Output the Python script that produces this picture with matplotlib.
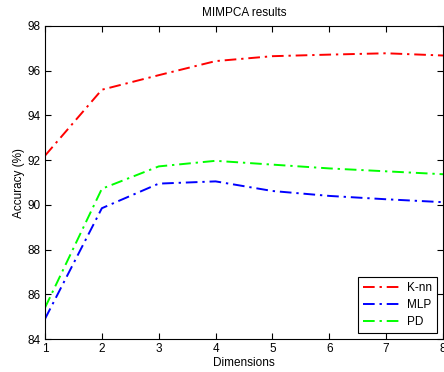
import matplotlib
matplotlib.use("Agg")
import matplotlib.pyplot as plt

dims = [1, 2, 3, 4, 5, 6, 7, 8]
knn = [92.2, 95.15, 95.8, 96.43, 96.65, 96.72, 96.78, 96.68]
mlp = [84.9, 89.85, 90.95, 91.05, 90.62, 90.4, 90.25, 90.12]
pd_ = [85.4, 90.72, 91.72, 91.97, 91.8, 91.63, 91.5, 91.37]

plt.rcParams['font.family'] = ['Liberation Sans', 'DejaVu Sans']
fig = plt.figure(figsize=(4.44, 3.72), dpi=100)
ax = fig.add_axes([45/444, 33/372, 398/444, 313/372])
ax.plot(dims, knn, color='red', linestyle=(0, (6, 2.5, 1.2, 2.5)), lw=1.4, label='K-nn')
ax.plot(dims, mlp, color='blue', linestyle=(0, (6, 2.5, 1.2, 2.5)), lw=1.4, label='MLP')
ax.plot(dims, pd_, color='#00ff00', linestyle=(0, (6, 2.5, 1.2, 2.5)), lw=1.4, label='PD')
ax.set_xlim(1, 8)
ax.set_ylim(84, 98)
ax.set_xticks(dims)
ax.set_yticks([84, 86, 88, 90, 92, 94, 96, 98])
ax.tick_params(direction='in', labelsize=8.5, length=4, top=True, right=True, pad=3)
ax.set_xlabel('Dimensions', fontsize=8.5, labelpad=1)
ax.set_ylabel('Accuracy (%)', fontsize=8.5, labelpad=2)
ax.set_title('MIMPCA results', fontsize=8.5, pad=7)
leg = ax.legend(loc='lower right', fontsize=8.5, fancybox=False, framealpha=1,
                edgecolor='black', borderpad=0.45, handlelength=3.2, labelspacing=0.4,
                handletextpad=0.5, borderaxespad=0, bbox_to_anchor=(0.985, 0.019))
leg.get_frame().set_linewidth(0.8)
fig.savefig('out.png', dpi=100)
